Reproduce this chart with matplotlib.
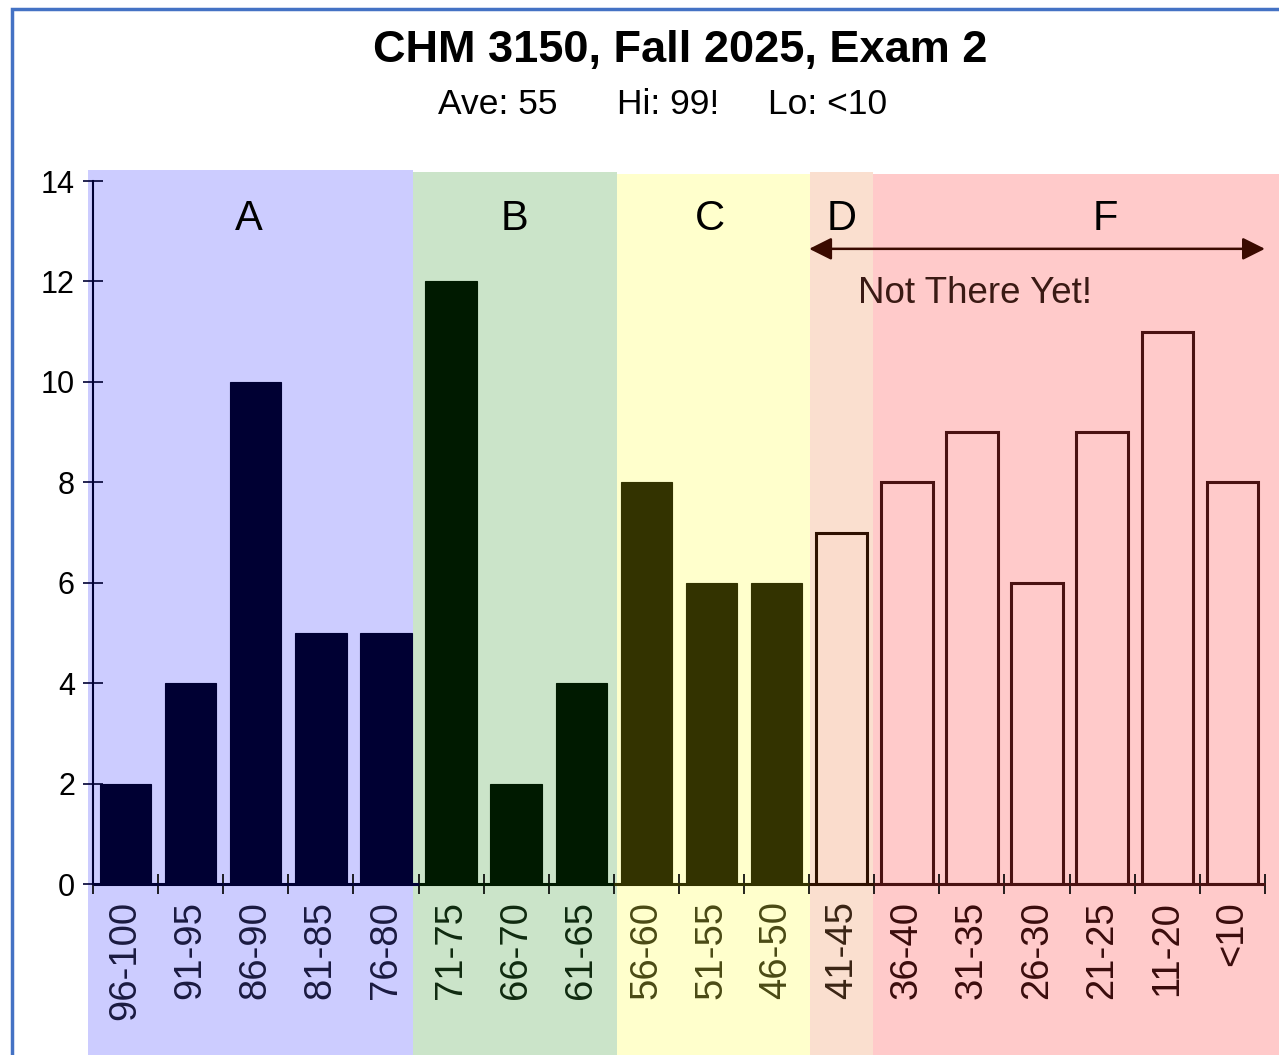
import numpy as np
import matplotlib.pyplot as plt
from matplotlib.patches import Rectangle

plt.rcParams['font.family'] = ['Liberation Sans', 'DejaVu Sans']

# score bins and number of students
bins = ["96-100", "91-95", "86-90", "81-85", "76-80",
        "71-75", "66-70", "61-65",
        "56-60", "51-55", "46-50",
        "41-45",
        "36-40", "31-35", "26-30", "21-25", "11-20", "<10"]
counts = [2, 4, 10, 5, 5,
          12, 2, 4,
          8, 6, 6,
          7,
          8, 9, 6, 9, 11, 8]
grades = ["A"] * 5 + ["B"] * 3 + ["C"] * 3 + ["D"] + ["F"] * 6

title = "CHM 3150, Fall 2025, Exam 2"
stats = ["Ave: 55", "Hi: 99!", "Lo: <10"]

# styles per grade
face = {"A": "#000033", "B": "#001a00", "C": "#333300", "D": "#fadccc", "F": "#ffcaca"}
edge = {"A": "#000033", "B": "#001a00", "C": "#333300", "D": "#2e1000", "F": "#4a1212"}
lblc = {"A": "#1a1a40", "B": "#0f2a0f", "C": "#4a4a14", "D": "#3a2414", "F": "#3a0c0c"}
band = {"A": "#ccccff", "B": "#cbe4c9", "C": "#ffffcc", "D": "#fadfcf", "F": "#ffcaca"}
band_span = {"A": (-0.58, 4.42, 14.22), "B": (4.42, 7.55, 14.18), "C": (7.55, 10.51, 14.14),
             "D": (10.51, 11.48, 14.18), "F": (11.48, 17.8, 14.14)}
letter_x = {"A": 1.9, "B": 5.98, "C": 8.98, "D": 11.0, "F": 15.05}

fig = plt.figure(figsize=(12.79, 10.55), dpi=100)
ax = fig.add_axes([0.0727, 0.162, 0.9163, 0.6664])
ax.patch.set_visible(False)

x = np.arange(len(bins))

# coloured grade bands behind everything
for g, (x0, x1, top) in band_span.items():
    ax.add_patch(Rectangle((x0, -3.6), x1 - x0, top + 3.6, facecolor=band[g],
                           edgecolor="none", zorder=0, clip_on=False))

for i, (c, g) in enumerate(zip(counts, grades)):
    lw = 2.2 if g in ("D", "F") else 0.8
    ax.bar(x[i], c, width=0.79, color=face[g], edgecolor=edge[g], linewidth=lw, zorder=2)

ax.set_xlim(-0.5, 17.5)
ax.set_ylim(0, 14)
ax.set_yticks(range(0, 15, 2))
ax.tick_params(axis="y", labelsize=22, direction="inout", length=14, width=1.2,
               color="#000033", pad=6)

# x ticks at bin boundaries, labels at bin centres
ax.set_xticks(np.arange(-0.5, 18, 1))
ax.set_xticklabels([])
ax.tick_params(axis="x", direction="inout", length=14, width=1.2)
for t, pos in zip(ax.xaxis.get_major_ticks(), np.arange(-0.5, 18, 1)):
    gi = min(int(pos + 0.5), 17)
    t.tick1line.set_color(edge[grades[gi]] if grades[gi] in ("D", "F") else face[grades[gi]])
ax.set_xticks(x, minor=True)
ax.set_xticklabels(bins, minor=True, rotation=90, fontsize=27.5)
ax.tick_params(axis="x", which="minor", length=0, pad=12)
for lab, g in zip(ax.get_xticklabels(minor=True), grades):
    lab.set_color(lblc[g])

for s in ("top", "right"):
    ax.spines[s].set_visible(False)
ax.spines["left"].set_color("#000033")
ax.spines["left"].set_linewidth(1.5)
ax.spines["bottom"].set_visible(False)
# bottom axis line coloured per grade band
for i, g in enumerate(grades):
    col = edge[g] if g in ("D", "F") else face[g]
    ax.plot([i - 0.5, i + 0.5], [0, 0], color=col, lw=2.2, zorder=3, clip_on=False,
            solid_capstyle="butt")

# grade letters
for g, lx in letter_x.items():
    ax.text(lx, 13.25, g, ha="center", va="center", fontsize=30, color="black", zorder=4)

# "Not There Yet!" arrow
ax.annotate("", xy=(10.5, 12.65), xytext=(17.5, 12.65),
            arrowprops=dict(arrowstyle="<|-|>", color="#3a0a00", lw=1.8,
                            mutation_scale=34, shrinkA=0, shrinkB=0),
            annotation_clip=False, zorder=4)
ax.text(13.05, 11.77, "Not There Yet!", ha="center", va="center", fontsize=26.5,
        color="#3a1a14", zorder=4)

fig.text(0.532, 0.952, title, ha="center", va="center", fontsize=32.5, fontweight="bold")
for sx, s in zip([0.389, 0.522, 0.647], stats):
    fig.text(sx, 0.901, s, ha="center", va="center", fontsize=25.5)

# blue frame around the chart
fig.add_artist(Rectangle((12 / 1279, -0.1), 1.2, 1.1 - 9 / 1055, transform=fig.transFigure,
                         facecolor="none", edgecolor="#4472c4", linewidth=2.5, zorder=10))

fig.savefig("out.png", dpi=100)
